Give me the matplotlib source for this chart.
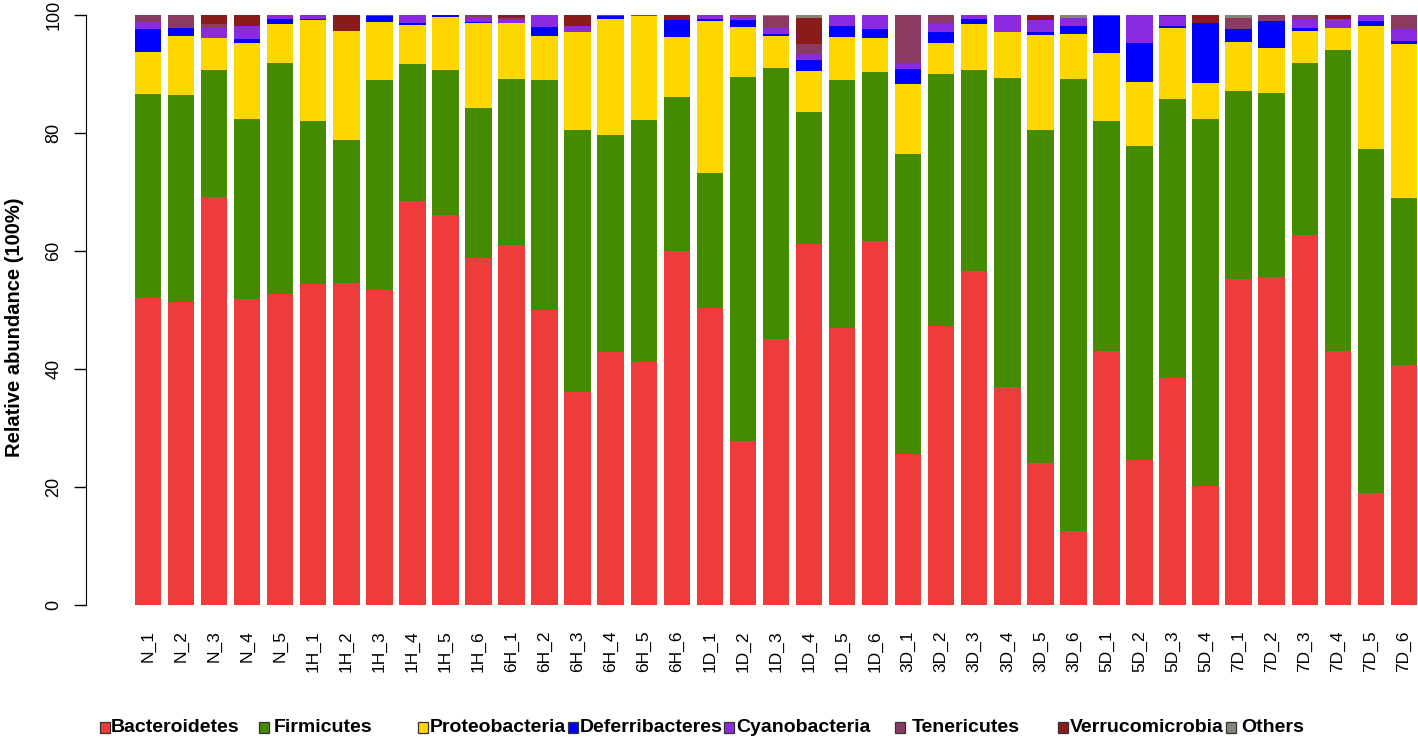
import matplotlib
matplotlib.use("Agg")
import matplotlib.pyplot as plt
import numpy as np
from matplotlib.patches import Rectangle

plt.rcParams['font.family'] = ['Liberation Sans', 'DejaVu Sans']

samples = ["N_1", "N_2", "N_3", "N_4", "N_5",
           "1H_1", "1H_2", "1H_3", "1H_4", "1H_5", "1H_6",
           "6H_1", "6H_2", "6H_3", "6H_4", "6H_5", "6H_6",
           "1D_1", "1D_2", "1D_3", "1D_4", "1D_5", "1D_6",
           "3D_1", "3D_2", "3D_3", "3D_4", "3D_5", "3D_6",
           "5D_1", "5D_2", "5D_3", "5D_4",
           "7D_1", "7D_2", "7D_3", "7D_4", "7D_5", "7D_6"]

phyla = ["Bacteroidetes", "Firmicutes", "Proteobacteria", "Deferribacteres",
         "Cyanobacteria", "Tenericutes", "Verrucomicrobia", "Others"]
colors = ["#EE3B3B", "#458B00", "#FFD700", "#0000FF",
          "#8A2BE2", "#8B3A62", "#8B1A1A", "#8B8378"]

# cumulative tops (percent), per phylum
top_bacteroidetes = [52.0, 51.4, 69.2, 51.8, 52.7, 54.4, 54.5, 53.4, 68.4, 66.1, 58.7,
                     61.0, 50.0, 36.0, 42.8, 41.2, 60.0, 50.3, 27.7, 45.0, 61.2, 47.0, 61.7,
                     25.6, 47.3, 56.6, 37.0, 24.0, 12.5, 43.0, 24.5, 38.5, 20.2,
                     55.3, 55.5, 62.7, 43.0, 18.9, 40.6]
top_firmicutes = [86.5, 86.4, 90.7, 82.3, 91.8, 82.0, 78.7, 88.9, 91.6, 90.6, 84.2,
                  89.1, 88.9, 80.4, 79.7, 82.1, 86.0, 73.2, 89.4, 91.0, 83.5, 88.9, 90.3,
                  76.4, 89.9, 90.7, 89.3, 80.5, 89.1, 82.0, 77.8, 85.7, 82.3,
                  87.0, 86.8, 91.9, 94.0, 77.2, 68.9]
top_proteobacteria = [93.6, 96.4, 96.0, 95.2, 98.4, 99.1, 97.2, 98.8, 98.2, 99.6, 98.6,
                      98.6, 96.4, 97.1, 99.3, 99.7, 96.2, 98.9, 97.9, 96.4, 90.5, 96.3, 96.1,
                      88.3, 95.2, 98.4, 97.1, 96.6, 96.8, 93.5, 88.6, 97.8, 88.4,
                      95.4, 94.4, 97.3, 97.7, 98.1, 95.0]
top_deferribacteres = [97.6, 97.8, 96.0, 95.8, 99.3, 99.3, 97.2, 99.8, 98.6, 100.0, 98.8,
                       98.6, 98.0, 97.1, 99.7, 99.7, 99.1, 99.3, 99.1, 96.8, 92.3, 98.1, 97.5,
                       90.8, 97.0, 99.3, 97.1, 97.0, 98.1, 99.7, 95.2, 98.1, 98.6,
                       97.5, 98.9, 97.7, 97.7, 98.9, 95.6]
top_cyanobacteria = [98.8, 97.8, 97.8, 98.1, 99.9, 99.8, 97.2, 100.0, 100.0, 100.0, 99.6,
                     99.1, 100.0, 98.1, 99.7, 100.0, 99.1, 100.0, 99.6, 97.8, 93.3, 100.0, 100.0,
                     91.9, 98.6, 100.0, 99.7, 99.1, 99.4, 100.0, 100.0, 99.7, 98.6,
                     97.5, 98.9, 99.3, 99.3, 100.0, 97.5]
top_tenericutes = [100.0, 100.0, 98.5, 98.1, 100.0, 100.0, 97.2, 100.0, 100.0, 100.0, 100.0,
                   99.5, 100.0, 98.1, 100.0, 100.0, 99.1, 100.0, 100.0, 99.8, 95.0, 100.0, 100.0,
                   100.0, 100.0, 100.0, 100.0, 99.1, 99.4, 100.0, 100.0, 99.85, 98.6,
                   99.5, 100.0, 100.0, 99.3, 100.0, 100.0]
top_verrucomicrobia = [100.0, 100.0, 100.0, 100.0, 100.0, 100.0, 100.0, 100.0, 100.0, 100.0, 100.0,
                       100.0, 100.0, 100.0, 100.0, 100.0, 100.0, 100.0, 100.0, 99.8, 99.4, 100.0, 100.0,
                       100.0, 100.0, 100.0, 100.0, 100.0, 99.4, 100.0, 100.0, 100.0, 100.0,
                       99.5, 100.0, 100.0, 100.0, 100.0, 100.0]
top_others = [100.0] * len(samples)

tops = [top_bacteroidetes, top_firmicutes, top_proteobacteria, top_deferribacteres,
        top_cyanobacteria, top_tenericutes, top_verrucomicrobia, top_others]

W, H = 1418, 739
fig = plt.figure(figsize=(W / 100, H / 100), dpi=100)
ax = fig.add_axes([86 / W, (H - 605) / H, (W - 86) / W, (605 - 14.7) / H])

x = np.arange(len(samples))
prev = np.zeros(len(samples))
for name, col, top in zip(phyla, colors, tops):
    t = np.array(top)
    ax.bar(x, t - prev, bottom=prev, width=0.8, color=col, edgecolor='none',
           linewidth=0)
    prev = t

xmin = -(148 - 86) / 33.05
ax.set_xlim(xmin, xmin + (W - 86) / 33.05)
ax.set_ylim(0, 100)
ax.set_xticks(x)
ax.set_xticklabels(samples, rotation=90, fontsize=12.5)
ax.tick_params(axis='x', length=0, pad=18)
ax.set_yticks([0, 20, 40, 60, 80, 100])
ax.set_yticklabels(['0', '20', '40', '60', '80', '100'], rotation=90,
                   va='center', fontsize=13)
ax.tick_params(axis='y', length=9, width=1, pad=8)
for s in ['top', 'right', 'bottom']:
    ax.spines[s].set_visible(False)
ax.spines['left'].set_bounds(0, 100)
ax.set_ylabel("Relative abundance (100%)", fontsize=14.5, fontweight='bold',
              labelpad=10)
ax.yaxis.set_label_coords(-62 / (W - 86), 0.47)

# legend row
sq_x = [100, 259, 418, 568, 724, 895, 1058, 1226]
text_x = [111, 274, 430, 580, 736, 912, 1070, 1241]
yc = 727
for sx, tx, name, col in zip(sq_x, text_x, phyla, colors):
    fig.patches.append(Rectangle((sx / W, (H - yc - 5.5) / H), 10 / W, 11 / H,
                                 transform=fig.transFigure, facecolor=col,
                                 edgecolor='#333333', linewidth=0.9))
    fig.text(tx / W, (H - yc) / H, name, fontsize=14, fontweight='bold',
             va='center', ha='left')

fig.savefig("out.png", dpi=100)
